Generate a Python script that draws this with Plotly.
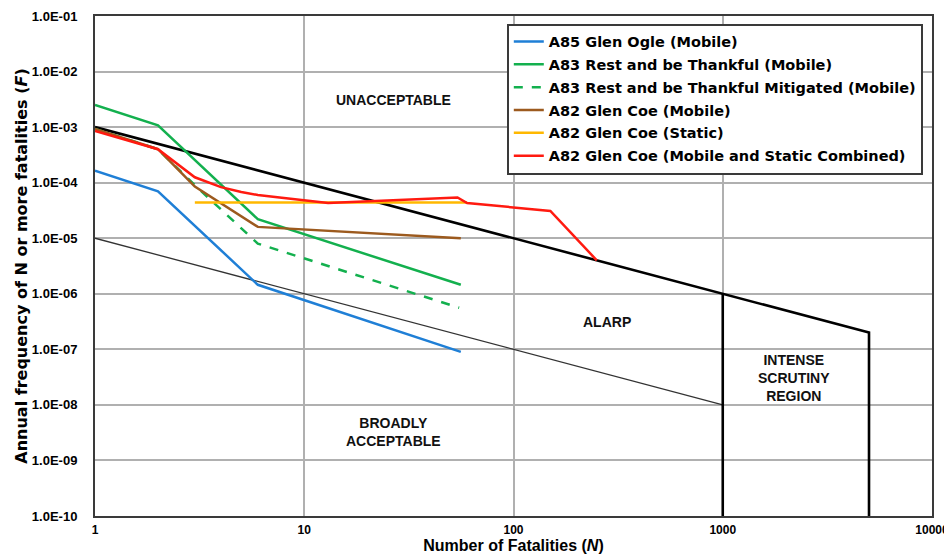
import plotly.graph_objects as go

# ---- data ----
glen_ogle_n = [1, 2, 6, 56]
glen_ogle_f = [1.65e-4, 7.0e-5, 1.45e-6, 9.0e-8]

rest_n = [1, 2, 6, 56]
rest_f = [2.5e-3, 1.08e-3, 2.2e-5, 1.45e-6]

rest_mit_n = [1, 2, 3, 6, 55]
rest_mit_f = [9.3e-4, 4.0e-4, 9.0e-5, 8.0e-6, 5.6e-7]

coe_mob_n = [1, 2, 3, 6, 56]
coe_mob_f = [9.3e-4, 4.0e-4, 8.5e-5, 1.6e-5, 1.0e-5]

coe_static_n = [3, 60]
coe_static_f = [4.4e-5, 4.4e-5]

coe_comb_n = [1, 2, 3, 4, 5, 6, 8, 10, 13, 54, 60, 150, 250]
coe_comb_f = [8.5e-4, 4.0e-4, 1.25e-4, 8.3e-5, 6.8e-5, 6.0e-5, 5.3e-5, 4.8e-5, 4.3e-5,
              5.4e-5, 4.3e-5, 3.1e-5, 4.0e-6]

upper_n = [1, 1000, 5000, 5000]
upper_f = [1e-3, 1e-6, 2e-7, 1e-10]
scrutiny_n = [1000, 1000]
scrutiny_f = [1e-6, 1e-10]
lower_n = [1, 1000]
lower_f = [1e-5, 1e-8]

y_tickvals = [1e-1, 1e-2, 1e-3, 1e-4, 1e-5, 1e-6, 1e-7, 1e-8, 1e-9, 1e-10]
y_ticktext = ["1.0E-01", "1.0E-02", "1.0E-03", "1.0E-04", "1.0E-05",
              "1.0E-06", "1.0E-07", "1.0E-08", "1.0E-09", "1.0E-10"]
x_tickvals = [1, 10, 100, 1000, 10000]
x_ticktext = ["1", "10", "100", "1000", "10000"]

FONT = "Liberation Sans, Arial, sans-serif"
WIDE = "DejaVu Sans, Verdana, sans-serif"

fig = go.Figure()

# criteria lines
fig.add_trace(go.Scatter(x=lower_n, y=lower_f, mode="lines",
                         line=dict(color="#333333", width=1.3), showlegend=False, hoverinfo="skip"))
fig.add_trace(go.Scatter(x=upper_n, y=upper_f, mode="lines",
                         line=dict(color="black", width=2.6), showlegend=False, hoverinfo="skip"))
fig.add_trace(go.Scatter(x=scrutiny_n, y=scrutiny_f, mode="lines",
                         line=dict(color="black", width=2.6), showlegend=False, hoverinfo="skip"))

series = [
    ("A85 Glen Ogle (Mobile)", glen_ogle_n, glen_ogle_f, "#1f7fd6", "solid"),
    ("A83 Rest and be Thankful (Mobile)", rest_n, rest_f, "#13b04e", "solid"),
    ("A83 Rest and be Thankful Mitigated (Mobile)", rest_mit_n, rest_mit_f, "#13b04e", "dash"),
    ("A82 Glen Coe (Mobile)", coe_mob_n, coe_mob_f, "#9c5a1e", "solid"),
    ("A82 Glen Coe (Static)", coe_static_n, coe_static_f, "#ffb800", "solid"),
    ("A82 Glen Coe (Mobile and Static Combined)", coe_comb_n, coe_comb_f, "#ff1a10", "solid"),
]
for i, (name, xs, ys, col, dash) in enumerate(series):
    fig.add_trace(go.Scatter(x=xs, y=ys, mode="lines", name=name, legendgroup=f"g{i}",
                             line=dict(color=col, width=2.5, dash=dash)))

# region labels
lab_font = dict(family=FONT, size=14, color="#111111", weight="bold")
for txt, x, y in [("UNACCEPTABLE", 393, 100), ("ALARP", 607, 322),
                  ("INTENSE<br>SCRUTINY<br>REGION", 794, 378),
                  ("BROADLY<br>ACCEPTABLE", 393, 432)]:
    fig.add_annotation(text=txt, x=(x - 95) / 837, y=(516 - y) / 500, xref="paper", yref="paper",
                       xanchor="center", yanchor="middle",
                       showarrow=False, font=lab_font, align="center")

# page body adds an 8px margin, so the figure is 8px smaller than the window
fig.update_layout(
    width=944, height=547,
    margin=dict(l=87, r=20, t=8, b=39),
    paper_bgcolor="white", plot_bgcolor="white",
    font=dict(family=FONT, color="black"),
    legend=dict(x=0.492, y=0.985, xanchor="left", yanchor="top",
                bgcolor="white", bordercolor="#3a3a3a", borderwidth=2,
                font=dict(family=WIDE, size=14.5, weight="bold", color="black"),
                tracegroupgap=1, itemwidth=30),
    showlegend=True,
)
fig.update_xaxes(type="log", range=[0, 4], tickvals=x_tickvals, ticktext=x_ticktext,
                 automargin=False,
                 showgrid=True, gridcolor="#b0b0b0", gridwidth=1.6,
                 showline=True, linecolor="#3a3a3a", linewidth=2, mirror=True,
                 ticks="", ticklabelstandoff=2, tickfont=dict(family=FONT, size=12, weight="bold"),
                 title=dict(text="Number of Fatalities (<i>N</i>)", standoff=0,
                            font=dict(family=FONT, size=16, weight="bold")))
fig.update_yaxes(type="log", range=[-10, -1], tickvals=y_tickvals, ticktext=y_ticktext,
                 automargin=False,
                 showgrid=True, gridcolor="#b0b0b0", gridwidth=1.6,
                 showline=True, linecolor="#3a3a3a", linewidth=2, mirror=True,
                 ticks="", ticklabelstandoff=13, tickfont=dict(family=FONT, size=13, weight="bold"),
                 title=dict(text="Annual frequency of N or more fatalities (<i>F</i>)", standoff=0,
                            font=dict(family=WIDE, size=16, weight="bold")))

fig.write_html("out.html")
